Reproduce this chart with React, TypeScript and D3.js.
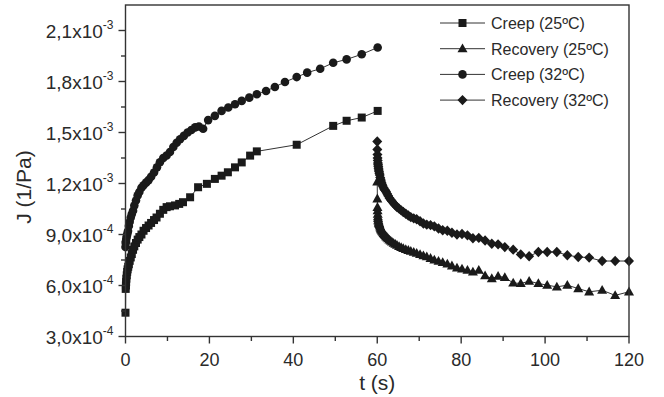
import React from "react";
import * as d3 from "d3";

// J values are in units of 1e-3 1/Pa
const creep25T = [0, 0.05, 0.1, 0.15, 0.2, 0.3, 0.4, 0.5, 0.65, 0.8, 1.0, 1.25, 1.5, 1.8, 2.1, 2.5, 2.9, 3.3, 3.8, 4.3, 4.9, 5.5, 6.1, 6.8, 7.4, 8.2, 9.0, 9.8, 10.6, 11.8, 12.8, 13.7, 15.4, 17.3, 19.4, 21.3, 22.9, 24.4, 26.1, 27.7, 29.7, 31.3, 40.8, 49.5, 52.7, 56.3, 60.1];
const creep25J = [0.44, 0.58, 0.6, 0.62, 0.64, 0.66, 0.68, 0.695, 0.71, 0.725, 0.745, 0.765, 0.785, 0.81, 0.83, 0.85, 0.87, 0.885, 0.9, 0.922, 0.938, 0.953, 0.968, 0.985, 1.0, 1.022, 1.045, 1.061, 1.066, 1.071, 1.08, 1.09, 1.119, 1.178, 1.198, 1.227, 1.246, 1.266, 1.295, 1.324, 1.364, 1.389, 1.428, 1.539, 1.569, 1.588, 1.627];

const creep32T = [0, 0.05, 0.1, 0.2, 0.3, 0.45, 0.6, 0.8, 1.0, 1.25, 1.5, 1.8, 2.1, 2.5, 2.9, 3.3, 3.8, 4.3, 4.9, 5.5, 6.1, 6.8, 7.5, 8.2, 9.0, 9.8, 10.6, 11.4, 12.2, 13.0, 13.9, 14.8, 15.7, 16.6, 17.5, 18.5, 19.7, 21.3, 22.9, 24.5, 26.1, 27.7, 29.5, 31.3, 33.5, 35.6, 38.0, 40.8, 43.3, 46.4, 49.5, 52.7, 56.3, 60.1];
const creep32J = [0.826, 0.85, 0.86, 0.875, 0.89, 0.905, 0.92, 0.95, 0.975, 1.0, 1.02, 1.04, 1.07, 1.1, 1.13, 1.15, 1.175, 1.19, 1.205, 1.22, 1.24, 1.265, 1.295, 1.325, 1.35, 1.365, 1.385, 1.415, 1.44, 1.46, 1.48, 1.5, 1.515, 1.53, 1.535, 1.522, 1.573, 1.598, 1.627, 1.647, 1.666, 1.686, 1.705, 1.725, 1.744, 1.768, 1.797, 1.826, 1.852, 1.875, 1.91, 1.93, 1.96, 2.0];

const recovT = [60.0, 60.02, 60.05, 60.08, 60.12, 60.16, 60.2, 60.25, 60.3, 60.36, 60.42, 60.5, 60.6, 60.7, 60.8, 60.9, 61.0, 61.15, 61.3, 61.5, 61.7, 61.9, 62.1, 62.35, 62.6, 62.9, 63.2, 63.5, 63.9, 64.3, 64.7, 65.2, 65.7, 66.2, 66.8, 67.4, 68.0, 68.7, 69.4, 70.2, 71.0, 71.8, 72.7, 73.6, 74.6, 75.6, 76.7, 77.8, 79.0, 80.2, 81.5, 82.8, 84.2, 85.7, 87.3, 88.8, 90.4, 92.4, 94.2, 96.2, 98.4, 100.5, 102.8, 105.3, 107.9, 110.5, 113.6, 116.7, 120.0];
const recov25J = [1.21, 1.11, 1.06, 1.04, 1.02, 1.005, 0.995, 0.985, 0.978, 0.97, 0.965, 0.96, 0.952, 0.945, 0.938, 0.932, 0.926, 0.92, 0.914, 0.907, 0.9, 0.894, 0.888, 0.882, 0.875, 0.868, 0.862, 0.856, 0.849, 0.843, 0.837, 0.83, 0.824, 0.818, 0.812, 0.807, 0.802, 0.796, 0.79, 0.783, 0.776, 0.769, 0.76, 0.751, 0.743, 0.736, 0.727, 0.716, 0.703, 0.698, 0.69, 0.68, 0.69, 0.658, 0.641, 0.655, 0.647, 0.615, 0.612, 0.625, 0.612, 0.602, 0.592, 0.602, 0.582, 0.563, 0.572, 0.542, 0.563];
const recov32J = [1.447, 1.4, 1.37, 1.35, 1.335, 1.32, 1.31, 1.3, 1.29, 1.28, 1.27, 1.26, 1.25, 1.236, 1.225, 1.215, 1.205, 1.195, 1.185, 1.175, 1.165, 1.16, 1.152, 1.14, 1.128, 1.115, 1.105, 1.095, 1.083, 1.072, 1.062, 1.052, 1.042, 1.032, 1.022, 1.012, 1.002, 0.995, 0.99, 0.978, 0.965, 0.958, 0.955, 0.948, 0.935, 0.925, 0.922, 0.91, 0.9, 0.903, 0.895, 0.878, 0.88, 0.865, 0.846, 0.842, 0.826, 0.811, 0.783, 0.772, 0.797, 0.797, 0.797, 0.778, 0.768, 0.764, 0.744, 0.744, 0.744];

const seriesNames = ["Creep (25ºC)", "Recovery (25ºC)", "Creep (32ºC)", "Recovery (32ºC)"];
const seriesShapes = ["square", "triangle", "circle", "diamond"];

const xMajor = [0, 20, 40, 60, 80, 100, 120];
const xMinor = [10, 30, 50, 70, 90, 110];
const yTicks = [0.3, 0.6, 0.9, 1.2, 1.5, 1.8, 2.1];
const yMant = ["3,0", "6,0", "9,0", "1,2", "1,5", "1,8", "2,1"];
const yExp = ["-4", "-4", "-4", "-3", "-3", "-3", "-3"];
const yMinor = [0.45, 0.75, 1.05, 1.35, 1.65, 1.95];

const L = 125.5, R = 629, T = 5, B = 336.5;
const FONT = "'Liberation Sans', Arial, sans-serif";
const INK = "#1a1a1a";

function Marker({ shape, x, y }: { shape: string; x: number; y: number }) {
  if (shape === "square") return <rect x={x - 4} y={y - 4} width={8} height={8} fill={INK} />;
  if (shape === "circle") return <circle cx={x} cy={y} r={4.3} fill={INK} />;
  if (shape === "triangle") return <path d={`M${x},${y - 5.2}L${x + 5},${y + 3.6}L${x - 5},${y + 3.6}Z`} fill={INK} />;
  return <path d={`M${x},${y - 5.2}L${x + 5},${y}L${x},${y + 5.2}L${x - 5},${y}Z`} fill={INK} />;
}

export default function App() {
  const x = d3.scaleLinear().domain([0, 120]).range([L, R]);
  const y = d3.scaleLinear().domain([0.3, 2.25]).range([B, T]);
  const line = d3.line<[number, number]>().x((d) => x(d[0])).y((d) => y(d[1]));
  const zip = (ts: number[], js: number[]) => ts.map((t, i) => [t, js[i]] as [number, number]);
  const series = [
    zip(creep25T, creep25J),
    zip(recovT, recov25J),
    zip(creep32T, creep32J),
    zip(recovT, recov32J),
  ];

  return (
    <svg width={664} height={397} style={{ position: "absolute", left: 0, top: 0, background: "#fff" }} fontFamily={FONT}>
      <rect x={0} y={0} width={664} height={397} fill="#fff" />
      {series.map((pts, si) => (
        <g key={si}>
          <path d={line(pts) || ""} fill="none" stroke="#333" strokeWidth={1} />
          {pts.map((p, i) => (
            <Marker key={i} shape={seriesShapes[si]} x={x(p[0])} y={y(p[1])} />
          ))}
        </g>
      ))}
      {/* frame */}
      <rect x={L} y={T} width={R - L} height={B - T} fill="none" stroke="#333" strokeWidth={1.4} />
      {/* x ticks */}
      {xMajor.map((v) => (
        <g key={"xm" + v}>
          <line x1={x(v)} x2={x(v)} y1={B} y2={B + 7} stroke="#333" strokeWidth={1.4} />
          <text x={x(v)} y={B + 29} textAnchor="middle" fontSize={18} fill="#2a2a2a">{v}</text>
        </g>
      ))}
      {xMinor.map((v) => (
        <line key={"xn" + v} x1={x(v)} x2={x(v)} y1={B} y2={B + 4.5} stroke="#333" strokeWidth={1.4} />
      ))}
      {/* y ticks */}
      {yTicks.map((v, i) => (
        <g key={"ym" + v}>
          <line x1={L - 7} x2={L} y1={y(v)} y2={y(v)} stroke="#333" strokeWidth={1.4} />
          <text x={L - 12} y={y(v) + 7} textAnchor="end" fontSize={19} fill="#2a2a2a">
            {yMant[i]}x10
            <tspan fontSize={12} dy={-9}>{yExp[i]}</tspan>
          </text>
        </g>
      ))}
      {yMinor.map((v) => (
        <line key={"yn" + v} x1={L - 4.5} x2={L} y1={y(v)} y2={y(v)} stroke="#333" strokeWidth={1.4} />
      ))}
      {/* axis titles */}
      <text x={(L + R) / 2} y={390} textAnchor="middle" fontSize={21} fill="#2a2a2a">t (s)</text>
      <text transform="translate(31,187) rotate(-90)" textAnchor="middle" fontSize={21} fill="#2a2a2a">J (1/Pa)</text>
      {/* legend */}
      {seriesNames.map((name, i) => {
        const ly = 23 + i * 25.7;
        return (
          <g key={name}>
            <line x1={440} x2={485} y1={ly} y2={ly} stroke="#333" strokeWidth={1} />
            <Marker shape={seriesShapes[i]} x={462.5} y={ly} />
            <text x={491} y={ly + 6} fontSize={16} fill="#2a2a2a">{name}</text>
          </g>
        );
      })}
    </svg>
  );
}
